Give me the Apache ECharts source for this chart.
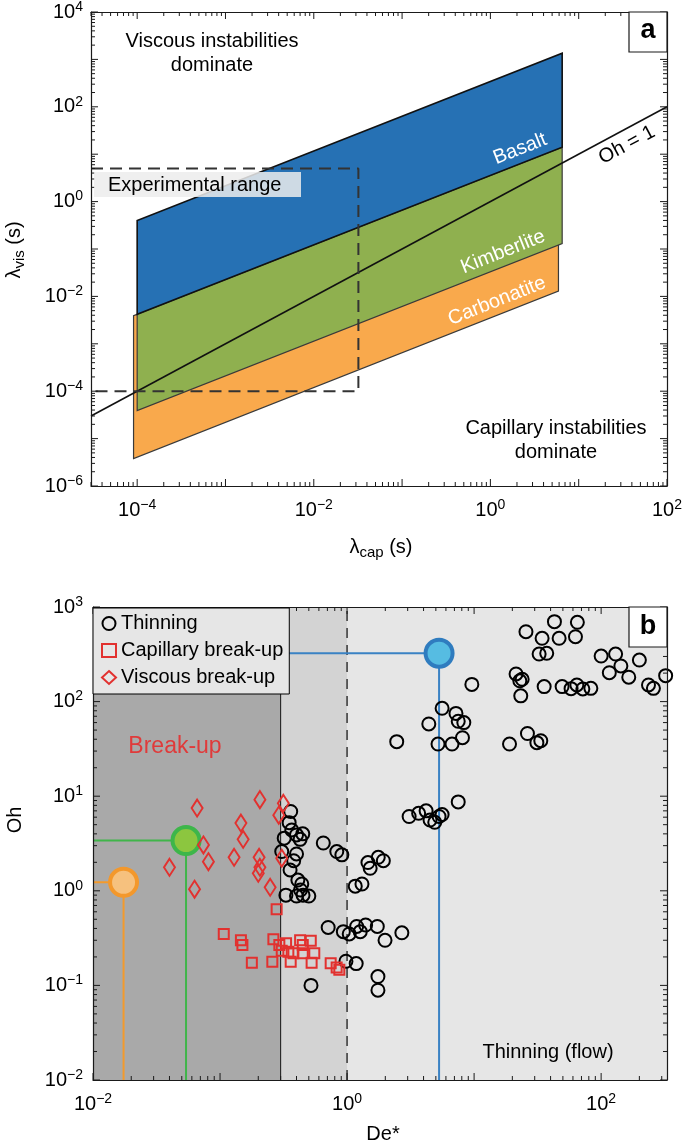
<!DOCTYPE html>
<html><head><meta charset="utf-8">
<script src="https://cdn.jsdelivr.net/npm/echarts@6/dist/echarts.min.js"></script>
<style>html,body{margin:0;padding:0;background:#fff}#c{width:685px;height:1148px}</style>
</head><body><div id="c"></div>
<script>
// ---------------- DATA ----------------
// Panel a: melt regions (lambda_cap, lambda_vis) corners
const basaltPoly = [[1e-4, 4.2e-3], [1e-4, 0.40], [6.5, 1350], [6.5, 14]];
const kimberlitePoly = [[1e-4, 3.9e-5], [1e-4, 4.2e-3], [6.5, 14], [6.5, 0.13]];
const carbonatitePoly = [[9.1e-5, 3.8e-6], [9.1e-5, 3.9e-3], [5.9, 13.2], [5.9, 0.013]];
const ohLine = [[3e-5, 3e-5], [100, 100]];
const expBox = [[3e-5, 5], [0.032, 5], [0.032, 1e-4], [3e-5, 1e-4]];
// tick labels
const xLabelsA = [1e-4, 1e-2, 1, 1e2];
const yLabelsA = [1e-6, 1e-4, 1e-2, 1, 1e2, 1e4];
const xLabelsB = [1e-2, 1, 1e2];
const yLabelsB = [1e-2, 1e-1, 1, 1e1, 1e2, 1e3];

// Panel b: De*, Oh
const thinning = [
  [42.9,700],[65,689],[25.6,548],[34.3,467],[46.7,467],[62.8,485],[32.5,318],[37.3,324],[100,303],[130,318],
  [200,275],[143,238],[116,202],[165,181],[322,188],[236,150],[258,138],[21.4,196],[23.9,172],[22.9,166],
  [23.3,115],[35.6,144],[49.3,144],[58,137],[64.4,150],[71.8,136],[83,138],[9.6,152],
  [5.6,85],[7.2,75],[7.5,62],[8.3,60],[4.4,58],[2.46,37.7],[5.2,35.6],[6.7,35.6],[8.1,41.5],[19,35.6],
  [26.3,46],[31.2,36.8],[33.5,38.6],
  [7.5,8.7],[3.08,6.1],[3.66,6.6],[4.19,7.0],[4.5,5.6],[4.9,5.3],[5.3,6.1],[5.6,6.4],
  [0.36,6.9],[0.35,5.25],[0.367,4.4],[0.32,3.6],[0.40,3.9],[0.448,4.0],[0.427,3.5],[0.65,3.2],[0.83,2.6],
  [0.91,2.4],[0.306,2.6],[0.40,2.45],[0.38,2.08],[0.356,1.66],[0.41,1.30],[0.44,1.18],[0.43,1.02],[0.33,0.90],
  [0.40,0.88],[0.45,0.90],[0.50,0.88],[1.16,1.12],[1.31,1.18],[1.46,1.99],[1.52,1.73],[1.76,2.26],[1.93,2.08],
  [0.71,0.41],[0.935,0.37],[1.04,0.35],[1.19,0.42],[1.27,0.37],[1.40,0.435],[1.73,0.42],[1.99,0.30],[2.7,0.36],
  [0.98,0.18],[1.18,0.17],[0.52,0.10],[1.75,0.124],[1.75,0.089]
];
const capillaryBreakup = [
  [0.279,0.64],[0.107,0.35],[0.146,0.30],[0.15,0.267],[0.263,0.307],[0.293,0.267],[0.331,0.279],[0.306,0.233],
  [0.345,0.227],[0.427,0.30],[0.518,0.297],[0.448,0.267],[0.378,0.219],[0.448,0.219],[0.552,0.219],[0.178,0.174],
  [0.258,0.178],[0.36,0.178],[0.526,0.174],[0.743,0.171],[0.828,0.155],[0.869,0.146]
];
const viscousBreakup = [
  [0.066,7.5],[0.206,9.2],[0.315,8.4],[0.29,6.3],[0.146,5.2],[0.152,3.5],[0.074,3.05],[0.081,2.03],
  [0.040,1.77],[0.129,2.26],[0.203,2.26],[0.206,1.77],[0.20,1.53],[0.306,2.21],[0.248,1.09],[0.063,1.04]
];
const meltBasalt = [5.3, 325];
const meltKimberlite = [0.054, 3.4];
const meltCarbonatite = [0.0174, 1.23];
const breakupLimit = 0.3;   // De* boundary of break-up region
const thinningLimit = 1;    // De* = 1

// axis extents
const AX_A = {xmin: 3e-5, xmax: 100, ymin: 1e-6, ymax: 1e4};
const AX_B = {xmin: 0.01, xmax: 330, ymin: 0.01, ymax: 1000};

// ---------------- HELPERS ----------------
const FONT = "'Liberation Sans', Arial, Helvetica, sans-serif";
const richPow = {
  b: {fontSize: 20, fontFamily: FONT, color: '#000', lineHeight: 24},
  s: {fontSize: 14, fontFamily: FONT, color: '#000', lineHeight: 10, verticalAlign: 'top'}
};
function powLabel(v) {
  const e = Math.round(Math.log10(v));
  return '{b|10}{s|' + (e < 0 ? '\u2212' + (-e) : e) + '}';
}
function logAxis(grid, ext, which, pos, labelValues, margin) {
  const min = which === 'x' ? ext.xmin : ext.ymin, max = which === 'x' ? ext.xmax : ext.ymax;
  return {
    type: 'log', logBase: 10, gridIndex: grid, position: pos, min, max, z: 10,
    axisLine: {show: true, onZero: false, lineStyle: {color: '#1a1a1a', width: 1.2}},
    axisTick: {show: false}, splitLine: {show: false}, minorTick: {show: false},
    axisLabel: labelValues ? {show: true, customValues: labelValues, formatter: powLabel, margin, rich: richPow,
      hideOverlap: false} : {show: false}
  };
}
function tickSeries(xi, yi, ext) {
  const data = [];
  const lx0 = Math.floor(Math.log10(ext.xmin)), lx1 = Math.ceil(Math.log10(ext.xmax));
  for (let k = lx0; k <= lx1; k++) for (let m = 1; m <= 9; m++) {
    const v = m * Math.pow(10, k);
    if (v >= ext.xmin * 0.999 && v <= ext.xmax * 1.001) data.push([v, ext.ymin, 0, m === 1 ? 1 : 0]);
  }
  const ly0 = Math.floor(Math.log10(ext.ymin)), ly1 = Math.ceil(Math.log10(ext.ymax));
  for (let k = ly0; k <= ly1; k++) for (let m = 1; m <= 9; m++) {
    const v = m * Math.pow(10, k);
    if (v >= ext.ymin * 0.999 && v <= ext.ymax * 1.001) data.push([ext.xmin, v, 1, m === 1 ? 1 : 0]);
  }
  return {
    type: 'custom', xAxisIndex: xi, yAxisIndex: yi, z: 20, silent: true, data,
    renderItem: function (params, api) {
      const kind = api.value(2), L = api.value(3) ? 7 : 4;
      const st = {stroke: '#1a1a1a', lineWidth: 1};
      const lo = api.coord([ext.xmin, ext.ymin]), hi = api.coord([ext.xmax, ext.ymax]);
      if (kind === 0) {
        const x = api.coord([api.value(0), ext.ymin])[0];
        return {type: 'group', children: [
          {type: 'line', shape: {x1: x, y1: lo[1], x2: x, y2: lo[1] - L}, style: st},
          {type: 'line', shape: {x1: x, y1: hi[1], x2: x, y2: hi[1] + L}, style: st}]};
      } else {
        const y = api.coord([ext.xmin, api.value(1)])[1];
        return {type: 'group', children: [
          {type: 'line', shape: {x1: lo[0], y1: y, x2: lo[0] + L, y2: y}, style: st},
          {type: 'line', shape: {x1: hi[0], y1: y, x2: hi[0] - L, y2: y}, style: st}]};
      }
    }
  };
}
function polySeries(poly, fill, stroke, lw, z) {
  return {
    type: 'custom', xAxisIndex: 0, yAxisIndex: 0, z, silent: true, clip: true, data: poly,
    renderItem: function (params, api) {
      if (params.dataIndex !== 0) return null;
      const pts = poly.map(p => api.coord(p));
      return {type: 'polygon', shape: {points: pts}, style: {fill, stroke, lineWidth: lw, lineJoin: 'miter'}};
    }
  };
}
function guideLine(pt, color) {
  return {type: 'line', xAxisIndex: 2, yAxisIndex: 2, z: 4, silent: true, showSymbol: false, symbol: 'none',
    data: [[AX_B.xmin, pt[1]], [pt[0], pt[1]], [pt[0], AX_B.ymin]],
    lineStyle: {color, width: 2}};
}
function bigDot(pt, fill, border) {
  return {type: 'scatter', xAxisIndex: 2, yAxisIndex: 2, z: 5, silent: true, data: [pt],
    symbol: 'circle', symbolSize: 27, itemStyle: {color: fill, borderColor: border, borderWidth: 4, opacity: 1}};
}

// ---------------- CHART ----------------
const chart = echarts.init(document.getElementById('c'), null, {renderer: 'canvas'});
const RED = '#e2312f';
const option = {
  animation: false,
  backgroundColor: '#fff',
  textStyle: {fontFamily: FONT},
  grid: [
    {left: 91, top: 12, width: 576, height: 474, show: true, backgroundColor: '#fff', borderWidth: 0, containLabel: false, outerBoundsMode: 'none'},
    {left: 93, top: 607, width: 574, height: 473, show: true, backgroundColor: '#e6e6e6', borderWidth: 0, containLabel: false, outerBoundsMode: 'none'}
  ],
  xAxis: [
    logAxis(0, AX_A, 'x', 'bottom', xLabelsA, 12),
    logAxis(0, AX_A, 'x', 'top', null),
    logAxis(1, AX_B, 'x', 'bottom', xLabelsB, 12),
    logAxis(1, AX_B, 'x', 'top', null)
  ],
  yAxis: [
    logAxis(0, AX_A, 'y', 'left', yLabelsA, 8),
    logAxis(0, AX_A, 'y', 'right', null),
    logAxis(1, AX_B, 'y', 'left', yLabelsB, 10),
    logAxis(1, AX_B, 'y', 'right', null)
  ],
  legend: {
    show: true, orient: 'vertical', left: 93, top: 608,
    backgroundColor: '#e6e6e6', borderColor: '#000', borderWidth: 1, borderRadius: 0,
    padding: [5, 6, 6, 8], itemGap: 6, itemWidth: 14, itemHeight: 13, selectedMode: false, z: 30,
    textStyle: {fontSize: 20, fontFamily: FONT, color: '#000', lineHeight: 21},
    data: [
      {name: 'Thinning', icon: 'circle', itemStyle: {color: 'rgba(0,0,0,0)', borderColor: '#000', borderWidth: 2}},
      {name: 'Capillary break-up', icon: 'rect', itemStyle: {color: 'rgba(0,0,0,0)', borderColor: RED, borderWidth: 2}},
      {name: 'Viscous break-up', icon: 'diamond', itemStyle: {color: 'rgba(0,0,0,0)', borderColor: RED, borderWidth: 2}}
    ]
  },
  series: [
    // ---- panel a ----
    polySeries(carbonatitePoly, '#f9a94c', '#3a3a3a', 1.2, 2),
    polySeries(kimberlitePoly, '#8fb04f', '#3a3a3a', 1.2, 3),
    polySeries(basaltPoly, '#2671b4', '#111', 1.6, 4),
    {type: 'line', xAxisIndex: 0, yAxisIndex: 0, z: 6, silent: true, showSymbol: false, symbol: 'none',
      data: ohLine, lineStyle: {color: '#111', width: 1.6}},
    {type: 'line', xAxisIndex: 0, yAxisIndex: 0, z: 7, silent: true, showSymbol: false, symbol: 'none',
      data: expBox, lineStyle: {color: '#333', width: 2, type: [12, 7]}},
    tickSeries(0, 0, AX_A),
    // ---- panel b ----
    {type: 'custom', xAxisIndex: 2, yAxisIndex: 2, z: 1, silent: true,
      data: [[AX_B.xmin, AX_B.ymin, breakupLimit, AX_B.ymax, 0], [breakupLimit, AX_B.ymin, thinningLimit, AX_B.ymax, 1]],
      encode: {x: [0, 2], y: [1, 3]},
      renderItem: function (params, api) {
        const p1 = api.coord([api.value(0), api.value(3)]);
        const p2 = api.coord([api.value(2), api.value(1)]);
        return {type: 'rect', shape: {x: p1[0], y: p1[1], width: p2[0] - p1[0], height: p2[1] - p1[1]},
          style: {fill: api.value(4) === 0 ? '#a9a9a9' : '#d3d3d3'}};
      }},
    {type: 'line', xAxisIndex: 2, yAxisIndex: 2, z: 2, silent: true, showSymbol: false, symbol: 'none',
      data: [[breakupLimit, AX_B.ymin], [breakupLimit, AX_B.ymax]], lineStyle: {color: '#111', width: 1}},
    {type: 'line', xAxisIndex: 2, yAxisIndex: 2, z: 2, silent: true, showSymbol: false, symbol: 'none',
      data: [[thinningLimit, AX_B.ymin], [thinningLimit, AX_B.ymax]], lineStyle: {color: '#333', width: 1.5, type: [10, 7]}},
    guideLine(meltBasalt, '#3a82c4'),
    guideLine(meltKimberlite, '#40b54a'),
    guideLine(meltCarbonatite, '#f39a2c'),
    bigDot(meltBasalt, '#56bce2', '#2f7cbf'),
    bigDot(meltKimberlite, '#8cc63f', '#3db64a'),
    bigDot(meltCarbonatite, '#f6c17e', '#f3982c'),
    {name: 'Thinning', type: 'scatter', xAxisIndex: 2, yAxisIndex: 2, z: 6, data: thinning,
      symbol: 'circle', symbolSize: 13, itemStyle: {color: 'rgba(0,0,0,0)', borderColor: '#000', borderWidth: 2, opacity: 1}},
    {name: 'Capillary break-up', type: 'scatter', xAxisIndex: 2, yAxisIndex: 2, z: 7, data: capillaryBreakup,
      symbol: 'rect', symbolSize: 10, itemStyle: {color: 'rgba(0,0,0,0)', borderColor: RED, borderWidth: 2, opacity: 1}},
    {name: 'Viscous break-up', type: 'scatter', xAxisIndex: 2, yAxisIndex: 2, z: 7, data: viscousBreakup,
      symbol: 'diamond', symbolSize: [11, 17], itemStyle: {color: 'rgba(0,0,0,0)', borderColor: RED, borderWidth: 2, opacity: 1}},
    tickSeries(2, 2, AX_B)
  ],
  graphic: [
    // panel a annotations
    {type: 'text', z: 50, style: {text: 'Viscous instabilities\ndominate', x: 212, y: 53, align: 'center', verticalAlign: 'middle',
      font: '20px ' + FONT, fill: '#000', lineHeight: 24}},
    {type: 'text', z: 50, style: {text: 'Capillary instabilities\ndominate', x: 556, y: 440, align: 'center', verticalAlign: 'middle',
      font: '20px ' + FONT, fill: '#000', lineHeight: 24}},
    {type: 'rect', z: 50, shape: {x: 94, y: 172, width: 207, height: 25}, style: {fill: 'rgba(236,236,236,0.85)'}},
    {type: 'text', z: 51, style: {text: 'Experimental range', x: 108, y: 185, align: 'left', verticalAlign: 'middle',
      font: '20px ' + FONT, fill: '#000'}},
    {type: 'text', z: 51, x: 520, y: 149, rotation: 0.377, style: {text: 'Basalt', x: 0, y: 0, align: 'center', verticalAlign: 'middle',
      font: '20px ' + FONT, fill: '#fff'}},
    {type: 'text', z: 51, x: 503, y: 252, rotation: 0.377, style: {text: 'Kimberlite', x: 0, y: 0, align: 'center', verticalAlign: 'middle',
      font: '20px ' + FONT, fill: '#fff'}},
    {type: 'text', z: 51, x: 497, y: 301, rotation: 0.377, style: {text: 'Carbonatite', x: 0, y: 0, align: 'center', verticalAlign: 'middle',
      font: '20px ' + FONT, fill: '#fff'}},
    {type: 'text', z: 51, x: 627, y: 145, rotation: 0.49, style: {text: 'Oh = 1', x: 0, y: 0, align: 'center', verticalAlign: 'middle',
      font: '20px ' + FONT, fill: '#000'}},
    {type: 'rect', z: 52, shape: {x: 629, y: 12, width: 38, height: 40}, style: {fill: '#fff', stroke: '#1a1a1a', lineWidth: 1.2}},
    {type: 'text', z: 53, style: {text: 'a', x: 648, y: 31, align: 'center', verticalAlign: 'middle', font: 'bold 27px ' + FONT, fill: '#000'}},
    // axis titles
    {type: 'text', z: 50, x: 14, y: 250, rotation: Math.PI / 2, style: {text: '{a|\u03bb}{b|vis}{a| (s)}', x: 0, y: 0, align: 'center', verticalAlign: 'middle',
      rich: {a: {fontSize: 20, fontFamily: FONT, lineHeight: 26, fill: '#000'}, b: {fontSize: 15, fontFamily: FONT, lineHeight: 14, verticalAlign: 'bottom', fill: '#000'}}}},
    {type: 'text', z: 50, x: 381, y: 547, style: {text: '{a|\u03bb}{b|cap}{a| (s)}', x: 0, y: 0, align: 'center', verticalAlign: 'middle',
      rich: {a: {fontSize: 20, fontFamily: FONT, lineHeight: 26, fill: '#000'}, b: {fontSize: 15, fontFamily: FONT, lineHeight: 14, verticalAlign: 'bottom', fill: '#000'}}}},
    {type: 'text', z: 50, x: 15, y: 820, rotation: Math.PI / 2, style: {text: 'Oh', x: 0, y: 0, align: 'center', verticalAlign: 'middle',
      font: '20px ' + FONT, fill: '#000'}},
    {type: 'text', z: 50, x: 383, y: 1134, style: {text: 'De*', x: 0, y: 0, align: 'center', verticalAlign: 'middle',
      font: '20px ' + FONT, fill: '#000'}},
    // panel b annotations
    {type: 'text', z: 50, style: {text: 'Break-up', x: 175, y: 747, align: 'center', verticalAlign: 'middle', font: '23px ' + FONT, fill: '#e03a3a'}},
    {type: 'text', z: 50, style: {text: 'Thinning (flow)', x: 548, y: 1052, align: 'center', verticalAlign: 'middle', font: '20px ' + FONT, fill: '#000'}},
    {type: 'rect', z: 52, shape: {x: 629, y: 607, width: 38, height: 40}, style: {fill: '#fff', stroke: '#1a1a1a', lineWidth: 1.2}},
    {type: 'text', z: 53, style: {text: 'b', x: 648, y: 627, align: 'center', verticalAlign: 'middle', font: 'bold 27px ' + FONT, fill: '#000'}}
  ]
};
chart.setOption(option);
</script></body></html>
